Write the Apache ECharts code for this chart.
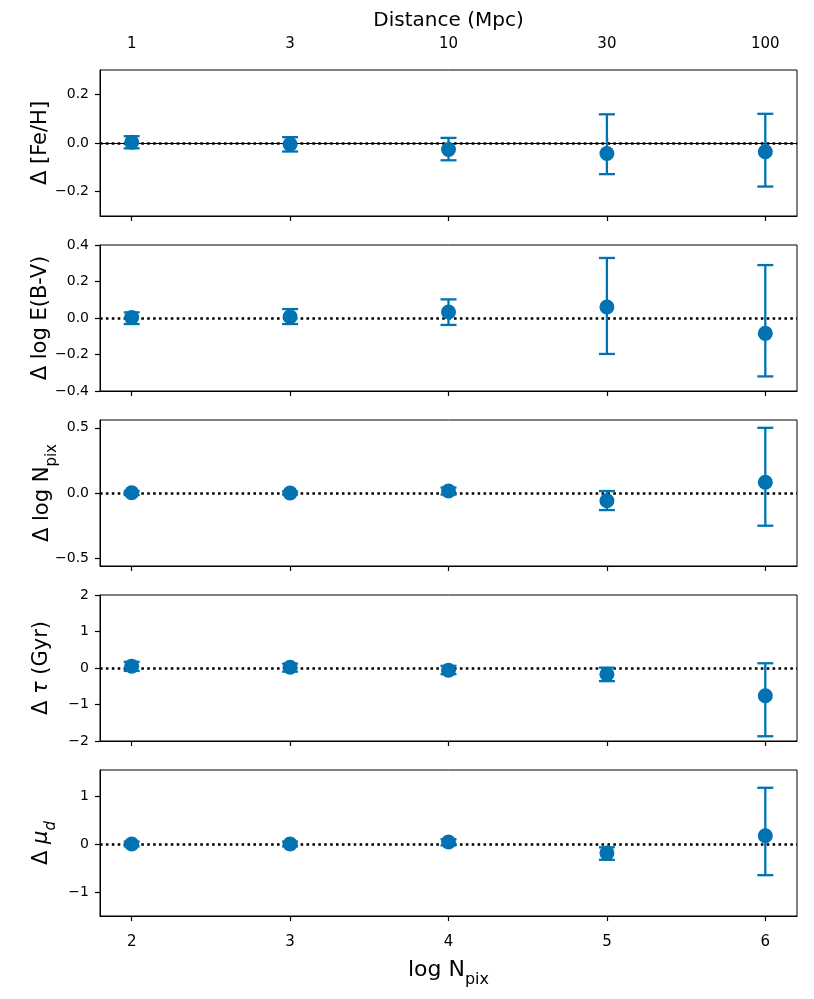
<!DOCTYPE html>
<html>
<head>
<meta charset="utf-8">
<script src="https://cdn.jsdelivr.net/npm/echarts@6/dist/echarts.min.js"></script>
<style>
html,body{margin:0;padding:0;background:#fff;}
#chart{width:814px;height:999px;}
</style>
</head>
<body>
<div id="chart"></div>
<script>
// ---- data ----
const logNpix = [2, 3, 4, 5, 6];
const distanceLabels = ['1', '3', '10', '30', '100'];

const fehVal = [0.003, -0.005, -0.027, -0.043, -0.036];
const fehLo  = [-0.022, -0.035, -0.071, -0.128, -0.179];
const fehHi  = [0.028, 0.024, 0.021, 0.118, 0.120];

const ebvVal = [0.003, 0.007, 0.033, 0.060, -0.084];
const ebvLo  = [-0.033, -0.033, -0.038, -0.197, -0.320];
const ebvHi  = [0.031, 0.049, 0.102, 0.329, 0.290];

const npixVal = [0.002, 0.000, 0.015, -0.060, 0.082];
const npixLo  = [-0.015, -0.012, -0.012, -0.131, -0.251];
const npixHi  = [0.015, 0.012, 0.042, 0.015, 0.500];

const tauVal = [0.05, 0.02, -0.06, -0.17, -0.76];
const tauLo  = [-0.08, -0.10, -0.17, -0.36, -1.87];
const tauHi  = [0.17, 0.12, 0.06, 0.01, 0.13];

const muVal = [0.00, 0.00, 0.04, -0.19, 0.17];
const muLo  = [-0.05, -0.05, -0.03, -0.33, -0.65];
const muHi  = [0.05, 0.05, 0.10, -0.07, 1.17];

const fehTicks  = [-0.2, 0.0, 0.2];
const ebvTicks  = [-0.4, -0.2, 0.0, 0.2, 0.4];
const npixTicks = [-0.5, 0.0, 0.5];
const tauTicks  = [-2, -1, 0, 1, 2];
const muTicks   = [-1, 0, 1];

// ---- layout/style ----
const BLUE = '#0173b2';
const FONT = 'DejaVu Sans';
const panels = [
  {val: fehVal, lo: fehLo, hi: fehHi, ticks: fehTicks, dec: 1, min: -0.3, max: 0.3,
   name: 'Δ [Fe/H]', top: 70, gap: 49},
  {val: ebvVal, lo: ebvLo, hi: ebvHi, ticks: ebvTicks, dec: 1, min: -0.4, max: 0.4,
   name: 'Δ log E(B-V)', top: 245, gap: 49},
  {val: npixVal, lo: npixLo, hi: npixHi, ticks: npixTicks, dec: 1, min: -0.56, max: 0.56,
   name: 'Δ log N{sub|pix}', top: 420, gap: 47},
  {val: tauVal, lo: tauLo, hi: tauHi, ticks: tauTicks, dec: 0, min: -2, max: 2,
   name: 'Δ {it|τ} (Gyr)', top: 595, gap: 48},
  {val: muVal, lo: muLo, hi: muHi, ticks: muTicks, dec: 0, min: -1.5, max: 1.54,
   name: 'Δ {it|μ}{itsub|d}', top: 770, gap: 48}
];
const H = 146;

function fmt(v, dec) {
  const s = Math.abs(v).toFixed(dec);
  return v < 0 ? '\u2212' + s : s;
}

const richY = {
  sub: {fontSize: 15, fontFamily: FONT, color: '#000', verticalAlign: 'bottom', lineHeight: 15, padding: [0, 0, -7, 0]},
  it: {fontSize: 21, fontFamily: FONT, fontStyle: 'italic', color: '#000'},
  itsub: {fontSize: 15, fontFamily: FONT, fontStyle: 'italic', color: '#000', verticalAlign: 'bottom', lineHeight: 15, padding: [0, 0, -7, 0]}
};

const grids = [], xAxes = [], yAxes = [], series = [];
panels.forEach((p, i) => {
  grids.push({left: 100, right: 17, top: p.top, height: H, show: true,
    borderColor: '#000', borderWidth: 1, backgroundColor: 'transparent'});
  const last = i === panels.length - 1;
  xAxes.push({
    type: 'value', gridIndex: i, min: 1.8, max: 6.2, position: 'bottom',
    splitLine: {show: false},
    axisLine: {show: true, onZero: false, lineStyle: {color: '#000', width: 1}},
    axisTick: {show: true, customValues: logNpix, length: 5, lineStyle: {color: '#000', width: 1.2}},
    axisLabel: {show: last, customValues: logNpix, margin: 19, fontSize: 15, fontFamily: FONT, color: '#000'},
    name: last ? 'log N{sub|pix}' : '', nameLocation: 'middle', nameGap: 43, nameMoveOverlap: false,
    nameTextStyle: {fontSize: 22, fontFamily: FONT, color: '#000', rich: {
      sub: {fontSize: 16, fontFamily: FONT, color: '#000', verticalAlign: 'bottom', lineHeight: 16, padding: [0, 0, -7, 0]}}}
  });
  yAxes.push({
    type: 'value', gridIndex: i, min: p.min, max: p.max,
    splitLine: {show: false},
    axisLine: {show: true, lineStyle: {color: '#000', width: 1}},
    axisTick: {show: true, customValues: p.ticks, length: 5, lineStyle: {color: '#000', width: 1.2}},
    axisLabel: {customValues: p.ticks, margin: 11, fontSize: 14, fontFamily: FONT, color: '#000',
      formatter: (v) => fmt(v, p.dec)},
    name: p.name, nameLocation: 'middle', nameRotate: 90, nameGap: p.gap, nameMoveOverlap: false,
    nameTextStyle: {fontSize: 21, fontFamily: FONT, color: '#000', rich: richY}
  });
  const errData = logNpix.map((x, k) => [x, p.lo[k], p.hi[k]]);
  const ptData = logNpix.map((x, k) => [x, p.val[k]]);
  series.push({
    type: 'custom', xAxisIndex: i, yAxisIndex: i, z: 3, silent: true,
    data: errData,
    renderItem: (params, api) => {
      const a = api.coord([api.value(0), api.value(1)]);
      const b = api.coord([api.value(0), api.value(2)]);
      const cw = 8;
      const st = {stroke: BLUE, lineWidth: 2.3};
      return {type: 'group', children: [
        {type: 'line', shape: {x1: a[0], y1: a[1], x2: b[0], y2: b[1]}, style: st},
        {type: 'line', shape: {x1: a[0] - cw, y1: a[1], x2: a[0] + cw, y2: a[1]}, style: st},
        {type: 'line', shape: {x1: b[0] - cw, y1: b[1], x2: b[0] + cw, y2: b[1]}, style: st}
      ]};
    }
  });
  series.push({
    type: 'scatter', xAxisIndex: i, yAxisIndex: i, z: 4, silent: true,
    symbol: 'circle', symbolSize: 15, itemStyle: {color: BLUE, opacity: 1},
    data: ptData,
    markLine: {
      silent: true, symbol: ['none', 'none'], label: {show: false}, z: 1,
      lineStyle: {color: '#000', width: 2.6, type: [2.6, 3.3]},
      data: [{yAxis: 0}]
    }
  });
});

// top distance axis
xAxes.push({
  type: 'value', gridIndex: 0, min: 1.8, max: 6.2, position: 'top',
  splitLine: {show: false},
  axisLine: {show: true, lineStyle: {color: '#000', width: 1}},
  axisTick: {show: true, customValues: logNpix, length: 5, lineStyle: {color: '#000', width: 1.2}},
  axisLabel: {customValues: logNpix, margin: 18, fontSize: 15, fontFamily: FONT, color: '#000',
    formatter: (v) => distanceLabels[logNpix.indexOf(v)]},
  name: 'Distance (Mpc)', nameLocation: 'middle', nameGap: 39, nameMoveOverlap: false,
  nameTextStyle: {fontSize: 20, fontFamily: FONT, color: '#000'}
});

const chart = echarts.init(document.getElementById('chart'), null, {renderer: 'canvas'});
chart.setOption({
  animation: false,
  backgroundColor: '#fff',
  grid: grids, xAxis: xAxes, yAxis: yAxes, series: series
});
</script>
</body>
</html>
